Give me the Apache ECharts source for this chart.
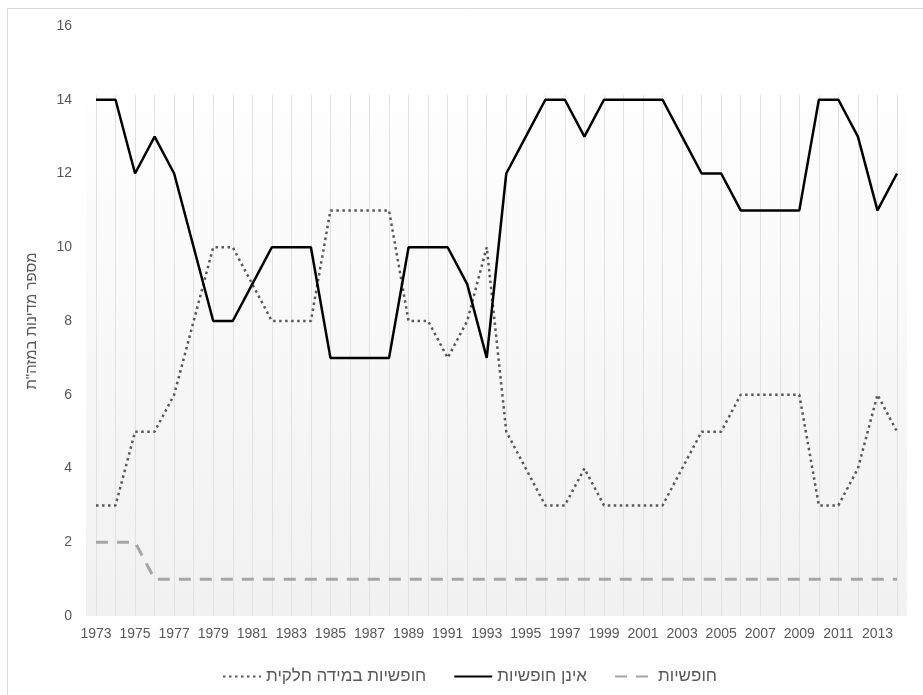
<!DOCTYPE html>
<html>
<head>
<meta charset="utf-8">
<script src="https://cdn.jsdelivr.net/npm/echarts@6/dist/echarts.min.js"></script>
<style>
html,body{margin:0;padding:0;background:#fff;}
#chart{width:923px;height:695px;}
</style>
</head>
<body>
<div id="chart"></div>
<script>
// ---- data ----
const years = [];
for (let y = 1973; y <= 2014; y++) years.push(String(y));

const partlyFreeName = 'חופשיות במידה חלקית';
const notFreeName = 'אינן חופשיות';
const freeName = 'חופשיות';
const yAxisTitle = 'מספר מדינות במזה"ת';

const partlyFree = [3,3,5,5,6,8,10,10,9,8,8,8,11,11,11,11,8,8,7,8,10,5,4,3,3,4,3,3,3,3,4,5,5,6,6,6,6,3,3,4,6,5];
const notFree    = [14,14,12,13,12,10,8,8,9,10,10,10,7,7,7,7,10,10,10,9,7,12,13,14,14,13,14,14,14,14,13,12,12,11,11,11,11,14,14,13,11,12];
const free       = [2,2,2,1,1,1,1,1,1,1,1,1,1,1,1,1,1,1,1,1,1,1,1,1,1,1,1,1,1,1,1,1,1,1,1,1,1,1,1,1,1,1];

const yTicks = { min: 0, max: 16, interval: 2 };

// ---- chart ----
const FONT = '"Liberation Sans", "DejaVu Sans", Arial, sans-serif';
const TXT = '#595959';
const chart = echarts.init(document.getElementById('chart'), null, { renderer: 'canvas' });

chart.setOption({
  animation: false,
  backgroundColor: '#ffffff',
  textStyle: { fontFamily: FONT },
  graphic: [{
    type: 'rect', z: -10, silent: true,
    shape: { x: 7.5, y: 8.5, width: 1000, height: 1000 },
    style: { fill: 'none', stroke: '#d9d9d9', lineWidth: 1 }
  }],
  grid: [
    { left: 96, right: 26, top: 26, bottom: 79 },
    { left: 86, right: 16, top: 95, bottom: 79, show: true, borderWidth: 0,
      backgroundColor: new echarts.graphic.LinearGradient(0, 0, 0, 1, [
        { offset: 0, color: '#fefefe' }, { offset: 1, color: '#f1f1f1' }
      ]) },
    { left: 96, right: 26, top: 95, bottom: 79 }
  ],
  xAxis: [
    { type: 'category', gridIndex: 0, data: years, boundaryGap: false,
      axisLine: { show: false }, axisTick: { show: false }, splitLine: { show: false },
      axisLabel: { interval: 1, color: TXT, fontSize: 14, fontFamily: FONT, margin: 11 } },
    { type: 'category', gridIndex: 1, data: years, show: false },
    { type: 'category', gridIndex: 2, data: years, boundaryGap: false,
      axisLine: { show: false }, axisTick: { show: false }, axisLabel: { show: false },
      splitLine: { show: true, interval: 0, lineStyle: { color: '#e2e2e2', width: 1 } } }
  ],
  yAxis: [
    { type: 'value', gridIndex: 0, min: yTicks.min, max: yTicks.max, interval: yTicks.interval,
      axisLine: { show: false }, axisTick: { show: false }, splitLine: { show: false },
      axisLabel: { color: TXT, fontSize: 14, fontFamily: FONT, margin: 24 },
      name: yAxisTitle, nameLocation: 'middle', nameGap: 57,
      nameTextStyle: { color: TXT, fontSize: 15, fontFamily: FONT } },
    { type: 'value', gridIndex: 1, show: false },
    { type: 'value', gridIndex: 2, show: false }
  ],
  legend: {
    left: 217, top: 663, itemGap: 27, itemWidth: 38, itemHeight: 14,
    itemStyle: { opacity: 0 },
    textStyle: { color: TXT, fontSize: 17, fontFamily: FONT },
    data: [partlyFreeName, notFreeName, freeName]
  },
  series: [
    { name: freeName, type: 'line', data: free, symbol: 'none', z: 3,
      lineStyle: { color: '#a6a6a6', width: 3, type: [12, 9] }, itemStyle: { color: '#a6a6a6' } },
    { name: notFreeName, type: 'line', data: notFree, symbol: 'none', z: 5,
      lineStyle: { color: '#000000', width: 2.5 }, itemStyle: { color: '#000000' } },
    { name: partlyFreeName, type: 'line', data: partlyFree, symbol: 'none', z: 4,
      lineStyle: { color: '#595959', width: 2.5, type: [2.5, 3.5] }, itemStyle: { color: '#595959' } }
  ]
});
</script>
</body>
</html>
